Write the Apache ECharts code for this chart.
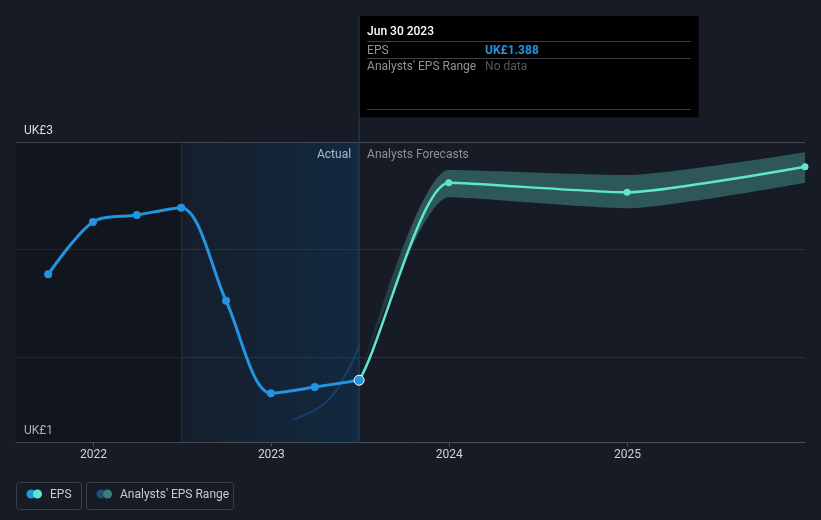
<!DOCTYPE html>
<html><head><meta charset="utf-8">
<script src="https://cdn.jsdelivr.net/npm/echarts@6/dist/echarts.min.js"></script>
<style>html,body{margin:0;padding:0;background:#161b25;}#c{width:821px;height:520px;}</style>
</head><body><div id="c"></div>
<script>
// ---- data ----
const actualDates = ['2021-09-30','2021-12-31','2022-03-31','2022-06-30','2022-09-30','2022-12-31','2023-03-31','2023-06-30'];
const actualEps = [2.106, 2.461, 2.508, 2.558, 1.927, 1.300, 1.342, 1.388];
const forecastDates = ['2023-12-31','2024-12-31','2025-12-31'];
const forecastEps = [2.727, 2.662, 2.836];
const rangeDates = ['2023-06-30','2023-12-31','2024-12-31','2025-12-31'];
const rangeLow = [1.388, 2.628, 2.554, 2.727];
const rangeHigh = [1.388, 2.814, 2.780, 2.934];
const ghostDates = ['2023-02-14','2023-04-24','2023-06-11','2023-06-30'];
const ghostVals = [1.119, 1.243, 1.480, 1.627];
const yearTicks = ['2022','2023','2024','2025'];
const yLabelTop = 'UK£3', yLabelBottom = 'UK£1';
const yMax = 3, yMin = 0.966;
const xMin = '2021-07-26', xMax = '2025-12-31';
const highlightStart = '2022-06-30', cursorDate = '2023-06-30';
const tipTitle = 'Jun 30 2023', tipEps = 'UK£1.388', tipRange = 'No data';

const FONT = 'Roboto, sans-serif';
const BLUE = '#2394e0', MINT = '#5fe6d1', BAND = '46,88,87';

const chart = echarts.init(document.getElementById('c'), null, {renderer: 'canvas'});
const P = d => { const a = d.split('-').map(Number); return Date.UTC(a[0], a[1] - 1, a[2]); };
const yearVals = yearTicks.map(y => P(y + '-01-01'));

const nA = actualDates.length;
const actualData = actualDates.map((d, i) => i === nA - 1
    ? {value: [P(d), actualEps[i]], symbolSize: 10, itemStyle: {color: BLUE, borderColor: '#ffffff', borderWidth: 1}}
    : [P(d), actualEps[i]]);
// forecast line continues the EPS curve from the last two reported points (lead-in hidden)
const forecastData = actualDates.slice(nA - 2).map((d, i) => ({value: [P(d), actualEps[nA - 2 + i]], symbol: 'none'}))
  .concat(forecastDates.map((d, i) => [P(d), forecastEps[i]]));

const option = {
  backgroundColor: '#161b25',
  animation: false,
  textStyle: {fontFamily: FONT},
  grid: {left: 16, right: 16, top: 142.5, bottom: 77.5, containLabel: false},
  visualMap: {type: 'piecewise', show: false, dimension: 0, seriesIndex: 1,
    pieces: [
      {gte: P('2021-01-01'), lte: P(cursorDate), color: 'rgba(35,148,224,0)'},
      {gt: P(cursorDate), lte: P('2026-06-30'), color: MINT}
    ]},
  xAxis: [
    {
      type: 'time', position: 'bottom', min: P(xMin), max: P(xMax),
      axisLine: {show: true, onZero: false, lineStyle: {color: '#4b5058', width: 1}},
      axisTick: {show: false}, axisLabel: {show: false}, splitLine: {show: false}
    },
    {
      type: 'value', position: 'bottom', min: P(xMin), max: P(xMax), scale: true,
      axisLine: {show: false, onZero: false},
      axisTick: {show: true, length: 4, lineStyle: {color: '#4b5058'}, customValues: yearVals},
      axisLabel: {color: '#d0d3d8', fontSize: 12, margin: 6, customValues: yearVals,
        formatter: v => String(new Date(v).getUTCFullYear())},
      splitLine: {show: false}
    }
  ],
  yAxis: [
    {type: 'value', min: yMin, max: yMax, axisLabel: {show: false}, axisLine: {show: false}, axisTick: {show: false}, splitLine: {show: false}},
    {type: 'value', min: 0, max: 2.8, interval: 1, inverse: true, axisLabel: {show: false}, axisLine: {show: false}, axisTick: {show: false},
      splitLine: {show: true, lineStyle: {color: ['#454a52', '#2a3039', '#2a3039', '#454a52'], width: 1}}}
  ],
  series: [
    {
      name: 'EPS', type: 'line', z: 5, smooth: 0.3,
      data: actualData,
      symbol: 'circle', symbolSize: 8, showAllSymbol: true,
      lineStyle: {width: 3, color: BLUE}, itemStyle: {color: BLUE},
      markArea: {silent: true, data: [
        [{xAxis: P(xMin), itemStyle: {color: 'rgba(0,0,0,0.2)'}}, {xAxis: P(highlightStart)}],
        [{xAxis: P(highlightStart), itemStyle: {color: new echarts.graphic.LinearGradient(0, 0, 1, 0, [
          {offset: 0, color: 'rgba(10,70,120,0.08)'}, {offset: 1, color: 'rgba(10,70,120,0.33)'}])}},
         {xAxis: P(cursorDate)}]
      ]},
      markLine: {silent: true, symbol: 'none', label: {show: false}, lineStyle: {color: '#1f2b38', width: 1, type: 'solid'},
        data: [{xAxis: P(highlightStart)}]}
    },
    {
      name: 'EPS forecast', type: 'line', z: 4, smooth: 0.19,
      data: forecastData,
      symbol: 'circle', symbolSize: 7, showAllSymbol: true,
      lineStyle: {width: 2.5}
    },
    {
      name: 'rangeLow', type: 'line', stack: 'range', z: 2, smooth: 0.2, symbol: 'none',
      data: rangeDates.map((d, i) => [P(d), rangeLow[i]]),
      lineStyle: {opacity: 0}
    },
    {
      name: "Analysts' EPS Range", type: 'line', stack: 'range', z: 2, smooth: 0.2, symbol: 'none',
      data: rangeDates.map((d, i) => [P(d), rangeHigh[i] - rangeLow[i]]),
      lineStyle: {opacity: 0},
      areaStyle: {opacity: 1, color: new echarts.graphic.LinearGradient(0, 0, 1, 0, [
        {offset: 0, color: 'rgba(' + BAND + ',0.1)'}, {offset: 0.12, color: 'rgba(' + BAND + ',1)'}, {offset: 1, color: 'rgba(' + BAND + ',1)'}])}
    },
    {
      name: 'range past', type: 'line', z: 1, smooth: 0.4, symbol: 'none',
      data: ghostDates.map((d, i) => [P(d), ghostVals[i]]),
      lineStyle: {color: 'rgba(30,110,190,0.35)', width: 2}
    }
  ]
};
chart.setOption(option);

const cx = chart.convertToPixel({xAxisIndex: 0}, P(cursorDate));
const yTop = chart.convertToPixel({yAxisIndex: 0}, yMax);
const yBot = chart.convertToPixel({yAxisIndex: 0}, yMin);
const gridLeft = chart.convertToPixel({xAxisIndex: 0}, P(xMin));

const txt = (x, y, s, fill, extra) => Object.assign({type: 'text', x: x, y: y,
  style: Object.assign({text: s, fill: fill, font: '12px ' + FONT, verticalAlign: 'middle', align: 'left'}, extra || {})});

chart.setOption({graphic: [
  {type: 'line', z: 3, shape: {x1: cx, y1: 16, x2: cx, y2: yBot}, style: {stroke: '#2a4058', lineWidth: 1}},
  txt(gridLeft + 8, yTop - 12, yLabelTop, '#d8dbe0'),
  txt(gridLeft + 8, yBot - 12, yLabelBottom, '#d8dbe0'),
  txt(cx - 8, yTop + 12, 'Actual', '#e8e8e8', {align: 'right'}),
  txt(cx + 8, yTop + 12, 'Analysts Forecasts', '#8c9199'),
  {type: 'group', x: cx, y: 16, z: 100, children: [
    {type: 'rect', shape: {x: 0, y: 0, width: 339.5, height: 101.5}, style: {fill: '#000000'}},
    txt(8, 16, tipTitle, '#ffffff', {font: '500 12px ' + FONT}),
    {type: 'line', shape: {x1: 8, y1: 25.5, x2: 332, y2: 25.5}, style: {stroke: '#3c3f44', lineWidth: 1}},
    txt(8, 34.5, 'EPS', '#8e9399'),
    txt(126, 34.5, tipEps, BLUE, {font: 'bold 12px ' + FONT}),
    {type: 'line', shape: {x1: 8, y1: 42.5, x2: 332, y2: 42.5}, style: {stroke: '#3c3f44', lineWidth: 1}},
    txt(8, 51, "Analysts' EPS Range", '#8e9399'),
    txt(126, 51, tipRange, '#55595f'),
    {type: 'line', shape: {x1: 8, y1: 93.5, x2: 332, y2: 93.5}, style: {stroke: '#3c3f44', lineWidth: 1}}
  ]},
  {type: 'group', x: 0, y: 0, z: 100, children: [
    {type: 'rect', shape: {x: 16.5, y: 482.5, width: 65, height: 27, r: 3}, style: {fill: 'none', stroke: '#3a3f48', lineWidth: 1}},
    {type: 'circle', shape: {cx: 31, cy: 494, r: 4.5}, style: {fill: BLUE}},
    {type: 'circle', shape: {cx: 37.5, cy: 494, r: 4.5}, style: {fill: MINT}},
    txt(50, 495, 'EPS', '#c8cbd0'),
    {type: 'rect', shape: {x: 86.5, y: 482.5, width: 147, height: 27, r: 3}, style: {fill: 'none', stroke: '#3a3f48', lineWidth: 1}},
    {type: 'circle', shape: {cx: 101, cy: 494, r: 4.5}, style: {fill: '#1d4e73'}},
    {type: 'circle', shape: {cx: 107.5, cy: 494, r: 4.5}, style: {fill: '#3a7e77'}},
    txt(120, 495, "Analysts' EPS Range", '#c8cbd0')
  ]}
]});
</script></body></html>
